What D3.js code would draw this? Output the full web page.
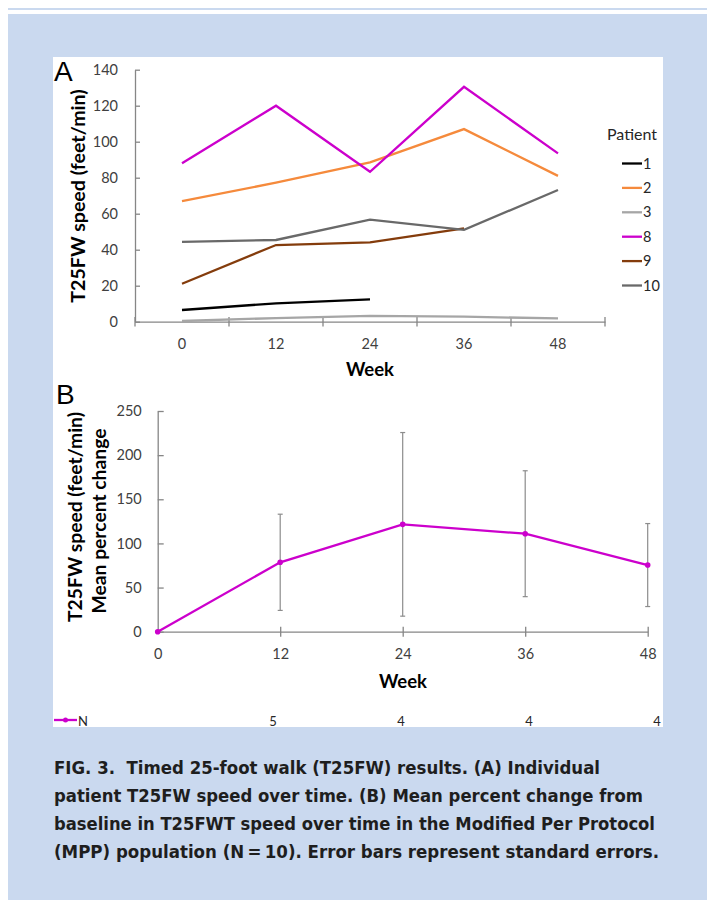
<!doctype html>
<html>
<head>
<meta charset="UTF-8">
<title>Fig 3 T25FW</title>
<script src="https://cdn.jsdelivr.net/npm/d3@7"></script>
<style>
  body { margin: 0; background: #fff; }
  svg { display: block; }
  .tick text { font-family: Lato, sans-serif; font-size: 14.5px; fill: #404040; }
  .cap text { white-space: pre; }
</style>
</head>
<body>
<svg id="fig" width="707" height="900"></svg>
<script>
// panel A: individual patients
var weeks = [0, 12, 24, 36, 48];
var patients = ["1", "2", "3", "8", "9", "10"];
var p1  = [6.5, 10.2, 12.4, null, null];
var p2  = [67, 77.2, 88.5, 107, 81];
var p3  = [0.4, 2, 3.2, 2.8, 1.8];
var p8  = [88, 120, 83.3, 130.5, 93.5];
var p9  = [21.1, 42.6, 44.1, 51.9, null];
var p10 = [44.4, 45.4, 56.7, 51, 73.2];
var speedTicks = [0, 20, 40, 60, 80, 100, 120, 140];

// panel B: mean percent change
var meanChange = [0, 78.6, 121.6, 111, 75.5];
var stdErr = [0, 54.5, 104, 71.3, 47];
var changeTicks = [0, 50, 100, 150, 200, 250];
var nCounts = ["", "5", "4", "4", "4"];

var caption = [
  "FIG. 3.  Timed 25-foot walk (T25FW) results. (A) Individual",
  "patient T25FW speed over time. (B) Mean percent change from",
  "baseline in T25FWT speed over time in the Modified Per Protocol",
  "(MPP) population (N\u2009=\u200910). Error bars represent standard errors."
];
var captionWidths = [546, 589, 601, 605];

var series = [p1, p2, p3, p8, p9, p10];
var colors = ["#000000", "#F58A3C", "#A6A6A6", "#CC00CC", "#843C0C", "#696969"];
var axisColor = "#868686";

var svg = d3.select("#fig");

// page background
svg.append("rect").attr("x", 8).attr("y", 8).attr("width", 699).attr("height", 2).attr("fill", "#CAD9EF");
svg.append("rect").attr("x", 8).attr("y", 14).attr("width", 699).attr("height", 886).attr("fill", "#CAD9EF");
svg.append("rect").attr("x", 53).attr("y", 57).attr("width", 610).attr("height", 670).attr("fill", "#fff");

svg.append("clipPath").attr("id", "panel")
  .append("rect").attr("x", 53).attr("y", 57).attr("width", 610).attr("height", 670);

var chart = svg.append("g").attr("clip-path", "url(#panel)");

// ---------- panel A ----------
var xA = d3.scaleBand().domain(weeks).range([135, 605]);
var yA = d3.scaleLinear().domain([0, 140]).range([321.7, 69.7]);

var yAxisA = chart.append("g").attr("transform", "translate(135,0)")
  .call(d3.axisLeft(yA).tickValues(speedTicks).tickSizeInner(-5).tickSizeOuter(0).tickPadding(17));
yAxisA.selectAll("line,path").attr("stroke", axisColor).attr("stroke-width", 1.3);

var xAxisA = chart.append("g").attr("transform", "translate(0,321.7)")
  .call(d3.axisBottom(xA).tickSize(0).tickPadding(17));
xAxisA.select("path").attr("stroke", axisColor).attr("stroke-width", 1.3);
xAxisA.selectAll(".tick text").attr("dy", "0.32em").attr("y", 23);

// category boundary ticks
var bounds = weeks.map(function(w){ return xA(w); }).concat([xA(48) + xA.bandwidth()]);
chart.selectAll(".bndA").data(bounds).enter().append("line")
  .attr("x1", function(d){ return d; }).attr("x2", function(d){ return d; })
  .attr("y1", 317).attr("y2", 326.5)
  .attr("stroke", axisColor).attr("stroke-width", 1.3);

var lineA = d3.line()
  .defined(function(d){ return d != null; })
  .x(function(d, i){ return xA(weeks[i]) + xA.bandwidth() / 2; })
  .y(function(d){ return yA(d); });

chart.selectAll(".patient").data(series).enter().append("path")
  .attr("d", lineA)
  .attr("fill", "none")
  .attr("stroke", function(d, i){ return colors[i]; })
  .attr("stroke-width", 2.3)
  .attr("stroke-linejoin", "miter");

// legend
chart.append("text").attr("x", 607).attr("y", 140)
  .attr("font-family", "Lato, sans-serif").attr("font-size", 16).attr("fill", "#262626")
  .text("Patient");
var leg = chart.selectAll(".leg").data(patients).enter().append("g")
  .attr("transform", function(d, i){ return "translate(622," + (163.5 + i * 24.4) + ")"; });
leg.append("line").attr("x1", 0).attr("x2", 20)
  .attr("stroke", function(d, i){ return colors[i]; }).attr("stroke-width", 2.3);
leg.append("text").attr("x", 21).attr("dy", "0.35em")
  .attr("font-family", "Lato, sans-serif").attr("font-size", 14.5).attr("fill", "#262626")
  .text(function(d){ return d; });

chart.append("text").attr("x", 370).attr("y", 376).attr("text-anchor", "middle")
  .attr("font-family", "Lato, sans-serif").attr("font-weight", "bold").attr("font-size", 18.5)
  .text("Week");
chart.append("text").attr("transform", "translate(85,196) rotate(-90)").attr("text-anchor", "middle")
  .attr("font-family", "Lato, sans-serif").attr("font-weight", "bold").attr("font-size", 19.6)
  .text("T25FW speed (feet/min)");
chart.append("text").attr("x", 54).attr("y", 81)
  .attr("font-family", "Liberation Sans, Arial, sans-serif").attr("font-size", 28)
  .text("A");

// ---------- panel B ----------
var xB = d3.scaleLinear().domain([0, 48]).range([157.7, 647.7]);
var yB = d3.scaleLinear().domain([0, 250]).range([631.7, 411]);

var yAxisB = chart.append("g").attr("transform", "translate(157.7,0)")
  .call(d3.axisLeft(yB).tickValues(changeTicks).tickSizeInner(-6).tickSizeOuter(0).tickPadding(16));
yAxisB.selectAll("line,path").attr("stroke", axisColor).attr("stroke-width", 1.3);

var xAxisB = chart.append("g").attr("transform", "translate(0,631.7)")
  .call(d3.axisBottom(xB).tickValues(weeks).tickSizeInner(0).tickSizeOuter(0));
xAxisB.select("path").attr("stroke", axisColor).attr("stroke-width", 1.3);
xAxisB.selectAll(".tick text").attr("y", 23).attr("dy", "0.32em");
xAxisB.selectAll(".tick").filter(function(d){ return d > 0; }).append("line")
  .attr("y1", -5).attr("y2", 5).attr("stroke", axisColor).attr("stroke-width", 1.3);

// error bars
var eb = chart.selectAll(".err").data(weeks.filter(function(w, i){ return stdErr[i] > 0; }))
  .enter().append("g").attr("stroke", "#8C8C8C").attr("stroke-width", 1.2);
eb.append("line")
  .attr("x1", function(d){ return xB(d); }).attr("x2", function(d){ return xB(d); })
  .attr("y1", function(d){ var i = weeks.indexOf(d); return yB(meanChange[i] + stdErr[i]); })
  .attr("y2", function(d){ var i = weeks.indexOf(d); return yB(meanChange[i] - stdErr[i]); });
[1, -1].forEach(function(s){
  eb.append("line")
    .attr("x1", function(d){ return xB(d) - 2.5; }).attr("x2", function(d){ return xB(d) + 2.5; })
    .attr("y1", function(d){ var i = weeks.indexOf(d); return yB(meanChange[i] + s * stdErr[i]); })
    .attr("y2", function(d){ var i = weeks.indexOf(d); return yB(meanChange[i] + s * stdErr[i]); });
});

var lineB = d3.line()
  .x(function(d, i){ return xB(weeks[i]); })
  .y(function(d){ return yB(d); });
chart.append("path").datum(meanChange).attr("d", lineB)
  .attr("fill", "none").attr("stroke", "#CC00CC").attr("stroke-width", 2.3);
chart.selectAll(".dot").data(meanChange).enter().append("circle")
  .attr("cx", function(d, i){ return xB(weeks[i]); })
  .attr("cy", function(d){ return yB(d); })
  .attr("r", 2.8).attr("fill", "#CC00CC");

chart.append("text").attr("x", 403).attr("y", 688).attr("text-anchor", "middle")
  .attr("font-family", "Lato, sans-serif").attr("font-weight", "bold").attr("font-size", 18.5)
  .text("Week");
chart.append("text").attr("transform", "translate(82,517) rotate(-90)").attr("text-anchor", "middle")
  .attr("font-family", "Lato, sans-serif").attr("font-weight", "bold").attr("font-size", 19.3)
  .text("T25FW speed (feet/min)");
chart.append("text").attr("transform", "translate(106,521) rotate(-90)").attr("text-anchor", "middle")
  .attr("font-family", "Lato, sans-serif").attr("font-weight", "bold").attr("font-size", 19.3)
  .text("Mean percent change");
chart.append("text").attr("x", 56).attr("y", 404)
  .attr("font-family", "Liberation Sans, Arial, sans-serif").attr("font-size", 28)
  .text("B");

// N row (data table, cut by the panel edge)
var xN = d3.scaleLinear().domain([12, 48]).range([273, 657]);
chart.append("line").attr("x1", 54).attr("x2", 77).attr("y1", 720).attr("y2", 720)
  .attr("stroke", "#CC00CC").attr("stroke-width", 2.3);
chart.append("circle").attr("cx", 65.5).attr("cy", 720).attr("r", 2.5).attr("fill", "#CC00CC");
chart.append("text").attr("x", 78).attr("y", 726)
  .attr("font-family", "Lato, sans-serif").attr("font-size", 13).attr("fill", "#262626").text("N");
chart.selectAll(".nval").data(nCounts).enter().append("text")
  .attr("x", function(d, i){ return xN(weeks[i]); }).attr("y", 726)
  .attr("text-anchor", "middle")
  .attr("font-family", "Lato, sans-serif").attr("font-size", 13).attr("fill", "#262626")
  .text(function(d){ return d; });

// caption
var cap = svg.append("g").attr("class", "cap")
  .attr("font-family", "DejaVu Sans Condensed, DejaVu Sans, sans-serif")
  .attr("font-weight", "bold").attr("fill", "#1e1e1e").attr("font-size", 17.3);
cap.selectAll("text").data(caption).enter().append("text")
  .attr("x", 54).attr("y", function(d, i){ return 774 + i * 28; })
  .attr("textLength", function(d, i){ return captionWidths[i]; })
  .attr("lengthAdjust", "spacingAndGlyphs")
  .text(function(d){ return d; });
</script>
</body>
</html>
